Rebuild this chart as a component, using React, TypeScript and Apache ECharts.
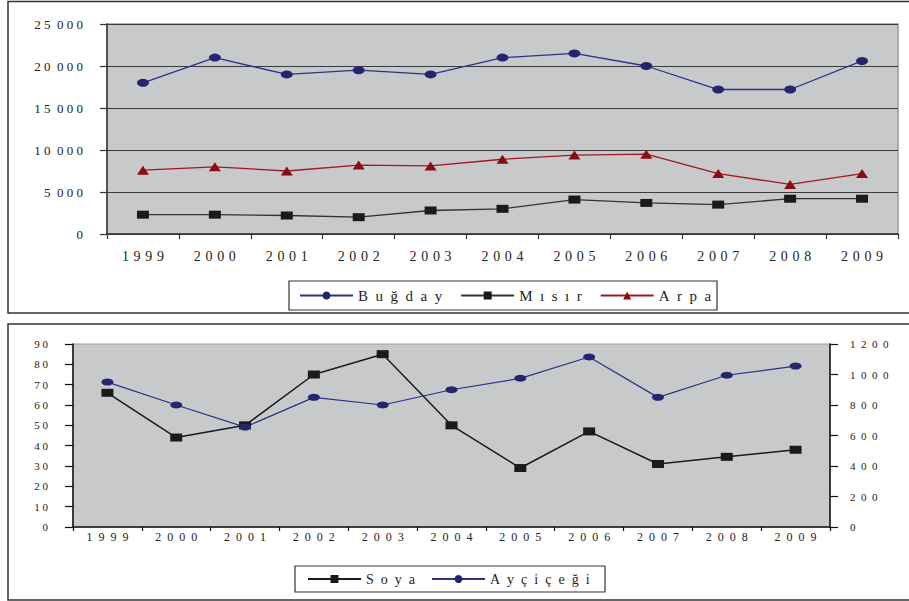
import React, { useEffect, useRef } from "react";
import * as echarts from "echarts";

const years = ["1999", "2000", "2001", "2002", "2003", "2004", "2005", "2006", "2007", "2008", "2009"];
const bugday = [18000, 21000, 19000, 19500, 19000, 21000, 21500, 20000, 17200, 17200, 20600];
const misir = [2300, 2300, 2200, 2000, 2800, 3000, 4100, 3700, 3500, 4200, 4200];
const arpa = [7600, 8000, 7500, 8200, 8100, 8900, 9400, 9500, 7200, 5900, 7200];
const soya = [66, 44, 50, 75, 85, 50, 29, 47, 31, 34.5, 38];
const aycicegi = [950, 800, 655, 850, 800, 900, 975, 1115, 850, 995, 1055];

const FONT = "'Liberation Serif', 'Times New Roman', 'DejaVu Serif', serif";
const NAVY = "#23266f";
const NAVY_LINE = "#2e3188";
const RED = "#8a0c12";
const RED_LINE = "#a3161f";
const BLACK = "#1a1a1a";

const spaced = (s: string, sep: string) => Array.from(s).join(sep);
const thousands = (v: number) => {
  const s = String(v);
  if (s.length <= 3) return s;
  return s.slice(0, s.length - 3) + " " + s.slice(s.length - 3);
};
const spacedNum = (v: number) =>
  thousands(v)
    .split(" ")
    .map((p) => spaced(p, " "))
    .join("  ");

export default function App() {
  const ref = useRef<HTMLDivElement>(null);
  useEffect(() => {
    if (!ref.current) return;
    const chart = echarts.init(ref.current, undefined, { renderer: "svg" });
    const legendNames: Record<string, string> = {
      "Buğday": spaced("Buğday", "\u2002"),
      "Mısır": spaced("Mısır", "\u2002"),
      "Arpa": spaced("Arpa", "\u2002"),
      "Soya": spaced("Soya", "\u2002"),
      "Ayçiçeği": spaced("Ayçiçeği", "\u2002"),
    };
    chart.setOption({
      animation: false,
      backgroundColor: "#ffffff",
      textStyle: { fontFamily: FONT },
      graphic: [
        { type: "rect", shape: { x: 8, y: 1.5, width: 910, height: 311.5 }, style: { fill: "none", stroke: "#333", lineWidth: 1.5 }, z: 0 },
        { type: "rect", shape: { x: 8, y: 324, width: 910, height: 276 }, style: { fill: "none", stroke: "#333", lineWidth: 1.5 }, z: 0 },
        { type: "rect", shape: { x: 289, y: 281, width: 428, height: 29 }, style: { fill: "none", stroke: "#333", lineWidth: 1.2 }, z: 0 },
        { type: "rect", shape: { x: 295, y: 566, width: 310, height: 26 }, style: { fill: "none", stroke: "#333", lineWidth: 1.2 }, z: 0 },
      ],
      legend: [
        {
          left: 299,
          top: 288,
          padding: 0,
          itemWidth: 53,
          itemHeight: 10,
          itemGap: 18,
          data: ["Buğday", "Mısır", "Arpa"],
          formatter: (n: string) => legendNames[n] || n,
          textStyle: { fontFamily: FONT, fontSize: 15, color: "#222" },
        },
        {
          left: 307,
          top: 572,
          padding: 0,
          itemWidth: 53,
          itemHeight: 10,
          itemGap: 16,
          data: ["Soya", "Ayçiçeği"],
          formatter: (n: string) => legendNames[n] || n,
          textStyle: { fontFamily: FONT, fontSize: 14, color: "#222" },
        },
      ],
      grid: [
        { left: 107, top: 24, width: 791, height: 210, show: true, backgroundColor: "#c8c9cb", borderColor: "#9a9a9a", borderWidth: 1.5 },
        { left: 73, top: 344, width: 757, height: 183, show: true, backgroundColor: "#c8c9cb", borderColor: "#a0a0a0", borderWidth: 1.2 },
      ],
      xAxis: [
        {
          gridIndex: 0,
          type: "category",
          data: years,
          boundaryGap: true,
          axisLine: { lineStyle: { color: "#333", width: 1.5 } },
          axisTick: { show: true, length: 5, lineStyle: { color: "#333", width: 1.2 } },
          axisLabel: { margin: 15, fontSize: 14, color: "#222", fontFamily: FONT, formatter: (v: string) => spaced(v, "\u2004") },
          splitLine: { show: false },
        },
        {
          gridIndex: 1,
          type: "category",
          data: years,
          boundaryGap: true,
          axisLine: { lineStyle: { color: "#111", width: 1.5 } },
          axisTick: { show: true, length: 4, lineStyle: { color: "#111", width: 1.2 } },
          axisLabel: { margin: 4, fontSize: 12, color: "#222", fontFamily: FONT, formatter: (v: string) => spaced(v, "  ") },
          splitLine: { show: false },
        },
      ],
      yAxis: [
        {
          gridIndex: 0,
          type: "value",
          min: 0,
          max: 25000,
          interval: 5000,
          axisLine: { show: true, lineStyle: { color: "#333", width: 1.5 } },
          axisTick: { show: true, length: 7, lineStyle: { color: "#333", width: 1.2 } },
          splitLine: { show: true, lineStyle: { color: "#3a3a3a", width: 1 } },
          axisLabel: { margin: 24, fontSize: 13, color: "#222", fontFamily: FONT, formatter: (v: number) => spacedNum(v) },
        },
        {
          gridIndex: 1,
          type: "value",
          position: "left",
          min: 0,
          max: 90,
          interval: 10,
          axisLine: { show: true, lineStyle: { color: "#111", width: 1.5 } },
          axisTick: { show: true, length: 8, lineStyle: { color: "#111", width: 1.2 } },
          splitLine: { show: false },
          axisLabel: { margin: 25, fontSize: 11, color: "#222", fontFamily: FONT, formatter: (v: number) => spaced(String(v), " ") },
        },
        {
          gridIndex: 1,
          type: "value",
          position: "right",
          min: 0,
          max: 1200,
          interval: 200,
          axisLine: { show: true, lineStyle: { color: "#111", width: 1.5 } },
          axisTick: { show: true, length: 8, lineStyle: { color: "#111", width: 1.2 } },
          splitLine: { show: false },
          axisLabel: { margin: 20, fontSize: 11, color: "#222", fontFamily: FONT, formatter: (v: number) => spaced(String(v), "\u2002") },
        },
      ],
      series: [
        {
          name: "Buğday",
          type: "line",
          xAxisIndex: 0,
          yAxisIndex: 0,
          data: bugday,
          symbol: "circle",
          symbolSize: [12, 8],
          lineStyle: { color: NAVY_LINE, width: 1.3 },
          itemStyle: { color: NAVY },
        },
        {
          name: "Mısır",
          type: "line",
          xAxisIndex: 0,
          yAxisIndex: 0,
          data: misir,
          symbol: "rect",
          symbolSize: [12, 8],
          lineStyle: { color: "#333", width: 1.3 },
          itemStyle: { color: BLACK },
        },
        {
          name: "Arpa",
          type: "line",
          xAxisIndex: 0,
          yAxisIndex: 0,
          data: arpa,
          symbol: "triangle",
          symbolSize: [12, 9],
          lineStyle: { color: RED_LINE, width: 1.3 },
          itemStyle: { color: RED },
        },
        {
          name: "Soya",
          type: "line",
          xAxisIndex: 1,
          yAxisIndex: 1,
          data: soya,
          symbol: "rect",
          symbolSize: [12, 8],
          lineStyle: { color: BLACK, width: 1.5 },
          itemStyle: { color: BLACK },
        },
        {
          name: "Ayçiçeği",
          type: "line",
          xAxisIndex: 1,
          yAxisIndex: 2,
          data: aycicegi,
          symbol: "circle",
          symbolSize: [12, 7],
          lineStyle: { color: NAVY_LINE, width: 1.2 },
          itemStyle: { color: NAVY },
        },
      ],
    });
    return () => chart.dispose();
  }, []);
  return <div ref={ref} style={{ position: "fixed", left: 0, top: 0, width: 909, height: 601, background: "#fff" }} />;
}
